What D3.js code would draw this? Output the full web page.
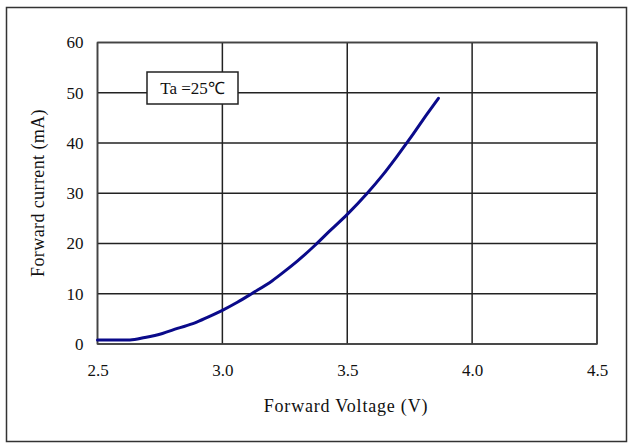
<!DOCTYPE html>
<html><head><meta charset="utf-8">
<script src="https://cdn.jsdelivr.net/npm/d3@7"></script>
<style>body{margin:0;background:#fff}svg{display:block}text{font-family:"Liberation Serif",serif}</style>
</head><body>
<svg id="c" width="629" height="445"></svg>
<script>
const voltage = [2.50,2.63,2.69,2.76,2.82,2.89,2.94,3.00,3.06,3.12,3.20,3.25,3.30,3.37,3.43,3.50,3.58,3.64,3.70,3.75,3.82,3.865];
const current = [0.8,0.8,1.3,2.1,3.1,4.2,5.3,6.7,8.3,10.1,12.6,14.5,16.5,19.6,22.5,25.8,30.0,33.5,37.4,40.8,45.8,48.9];
const xTicks = [2.5,3.0,3.5,4.0,4.5];
const yTicks = [0,10,20,30,40,50,60];
const xTitle = "Forward Voltage (V)";
const yTitle = "Forward current (mA)";
const note = "Ta =25℃";

const svg = d3.select("#c");
const L=97.5, R=597, T=42.5, B=344;
const x = d3.scaleLinear().domain([2.5,4.5]).range([L,R]);
const y = d3.scaleLinear().domain([0,60]).range([B,T]);

svg.append("rect").attr("x",6.5).attr("y",7.5).attr("width",620).attr("height",434)
  .attr("fill","none").attr("stroke","#333").attr("stroke-width",1.5);

// grid
svg.append("g").selectAll("line").data(xTicks).join("line")
  .attr("x1",d=>x(d)).attr("x2",d=>x(d)).attr("y1",T).attr("y2",B)
  .attr("stroke","#222").attr("stroke-width",1.5);
svg.append("g").selectAll("line").data(yTicks).join("line")
  .attr("x1",L).attr("x2",R).attr("y1",d=>y(d)).attr("y2",d=>y(d))
  .attr("stroke","#222").attr("stroke-width",1.5);
svg.append("rect").attr("x",L).attr("y",T).attr("width",R-L).attr("height",B-T)
  .attr("fill","none").attr("stroke","#444").attr("stroke-width",1.5);

// axes labels
const xa = d3.axisBottom(x).tickValues(xTicks).tickFormat(d3.format(".1f")).tickSize(0).tickPadding(20);
const gx = svg.append("g").attr("transform",`translate(0,${B})`).call(xa);
gx.select(".domain").remove();
gx.selectAll("text").attr("font-size",17).attr("fill","#111");
const ya = d3.axisLeft(y).tickValues(yTicks).tickSize(0).tickPadding(14);
const gy = svg.append("g").attr("transform",`translate(${L},0)`).call(ya);
gy.select(".domain").remove();
gy.selectAll("text").attr("font-size",17).attr("fill","#111");

svg.append("text").attr("x",346).attr("y",412).attr("text-anchor","middle")
  .attr("font-size",18).attr("letter-spacing",0.8).attr("fill","#111").text(xTitle);
svg.append("text").attr("transform","translate(44,193) rotate(-90)").attr("text-anchor","middle")
  .attr("font-size",18).attr("letter-spacing",0.4).attr("fill","#111").text(yTitle);

// note box
svg.append("rect").attr("x",147).attr("y",72).attr("width",91).attr("height",32)
  .attr("fill","#fff").attr("stroke","#222").attr("stroke-width",1.5);
svg.append("text").attr("x",192.5).attr("y",94).attr("text-anchor","middle")
  .attr("font-size",17).attr("fill","#111").text(note);

// curve
const data = voltage.map((v,i)=>[v,current[i]]);
svg.append("path").datum(data)
  .attr("d",d3.line().x(d=>x(d[0])).y(d=>y(d[1])).curve(d3.curveMonotoneX))
  .attr("fill","none").attr("stroke","#0a0a8a").attr("stroke-width",3).attr("stroke-linecap","round");
</script>
</body></html>
